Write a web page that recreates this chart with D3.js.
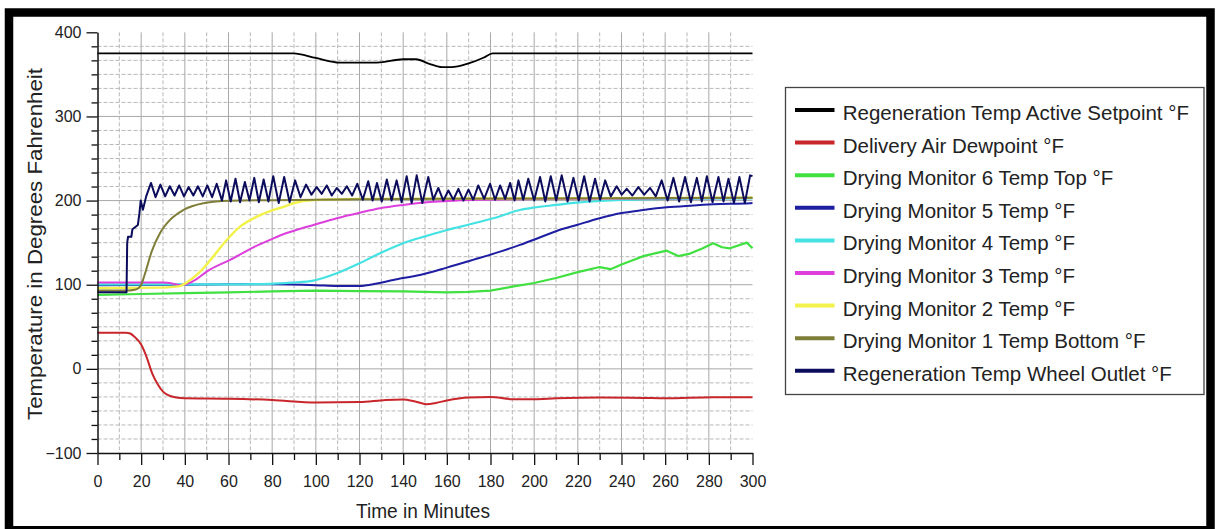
<!DOCTYPE html>
<html><head><meta charset="utf-8">
<script src="https://cdn.jsdelivr.net/npm/d3@7"></script>
<style>html,body{margin:0;padding:0;background:#fff;overflow:hidden}svg{display:block}</style>
</head><body>
<svg id="chart" width="1221" height="529"></svg>
<script>
// ---------- data ----------
const seriesNames = [
  "Regeneration Temp Active Setpoint °F",
  "Delivery Air Dewpoint °F",
  "Drying Monitor 6 Temp Top °F",
  "Drying Monitor 5 Temp °F",
  "Drying Monitor 4 Temp °F",
  "Drying Monitor 3 Temp °F",
  "Drying Monitor 2 Temp °F",
  "Drying Monitor 1 Temp Bottom °F",
  "Regeneration Temp Wheel Outlet °F"
];
const xTickValues = [0,20,40,60,80,100,120,140,160,180,200,220,240,260,280,300];
const yTickValues = [-100,0,100,200,300,400];

const setpoint = [[0,375],[89.7,375],[100,369.5],[111,364],[128,364],[140,368],[146,368],[152,362.5],[158,358.5],[162,358.5],[170,363],[177,370],[181,375],[300,375]];
const dewpoint = [[0,43],[13,43],[15,42],[17,38],[20,29],[22.5,14],[25,-5],[27.5,-18],[30,-27],[33,-32],[36,-34],[40,-35],[60,-35.5],[80,-37],[100,-40],[120,-39.5],[132,-37],[140,-36.5],[145,-38.5],[150.8,-42],[155,-40.5],[160,-37.5],[170,-34],[180,-33.5],[190,-36],[200,-36],[210,-35],[230,-34],[250,-34.5],[260,-35],[282,-33.8],[300,-33.8]];
const monitor6 = [[0,88],[20,89],[40,90],[60,91],[80,92],[100,93],[120,92.5],[140,92],[160,91],[170,91.5],[180,93],[190,97.7],[200,102],[210,108],[220,115],[230,121],[235,118.5],[240,124],[246,130],[250,134],[260.7,140.5],[266,134],[271.4,137],[277,143],[282,149.3],[286,144.5],[289.7,143.3],[297.4,150],[300,143.3]];
const monitor5 = [[0,99.5],[40,100],[60,100.5],[79,100.5],[100,99.5],[110,98.5],[120,98.5],[128,101.5],[135.5,105.7],[147.7,111.6],[160,120.3],[172,129.5],[184.4,139.3],[193.5,147.3],[199.6,153.2],[210.3,163.9],[219.5,171],[230,179],[239.4,184.9],[250,188.8],[260.7,192],[271.4,194],[282,195.6],[299,196.8],[300,197]];
const monitor4 = [[0,100.5],[60,100.5],[79,101],[89,102.5],[98.9,104.9],[109.6,113.6],[120,125.5],[129.4,137.4],[140,149.3],[150.8,158],[160,165],[170.6,171.9],[181.3,179],[193.5,188.8],[199.6,191.6],[210.3,194.8],[219.5,197.5],[230,199.5],[239.4,200.7],[250,201.5],[260,202],[300,202.5]];
const monitor3 = [[0,102.5],[30,102.5],[35,101],[38,99.5],[42,102],[45,106],[50,115.6],[60.7,129.5],[71.4,144.5],[79,153.2],[83.6,158.5],[89.7,163.9],[98.9,171],[109.6,179],[120.2,185.6],[129.4,190.8],[140,194.8],[150.8,198],[160,199.5],[175,201],[200,202],[300,203]];
const monitor2 = [[0,96],[30,96.5],[35,97.5],[37.8,98.4],[41,103],[45.4,111.6],[49,121],[53,133.4],[59.2,153.2],[65.3,169],[73,180.9],[79,187.5],[84,191.5],[89.7,196.8],[98.9,200.5],[120,202],[300,203.5]];
const monitor1 = [[0,93],[13.4,93],[17,94],[18.7,95.8],[20,100],[21.8,113.6],[24.8,139.3],[28.6,161.2],[33.2,177],[39.3,188.8],[48.5,196.8],[60.7,199.9],[80,200.5],[120,201.5],[200,202.5],[300,203.5]];
const wheelOutlet = [
  [0,91],[13.3,91],[13.6,150],[14,157],[15.5,157],[16,166],[18.5,171],[19.2,185],[19.8,200],[20.8,189],[22.3,205],
  [24.5,221],[26.6,204],[28.8,219],[31,205],[33.1,217],[35.3,206],[37.4,218],[39.6,205],[41.7,216],[43.9,206],[46,217],[48.2,205],[50.3,218],[52.5,204],[54.6,220],
  [57,200],[58.9,224],[61,199],[63.2,226],[65.3,198],[67.5,222],[69.6,200],[71.8,227],[73.9,198],[76.1,225],[78.3,199],[80.5,229],[83,197],[85.5,228],[88,198],
  [90.5,224],[93,204],[95.5,219],[98,207],[100.4,216],[102.7,208],[105,218],[107.3,206],[109.6,215],[111.9,208],[114.2,217],[116.6,206],[119,220],
  [121.5,201],[124,223],[126,200],[128,221],[130.2,199],[132.5,225],[134.7,200],[137,224],
  [139.3,198],[141.6,229],[143.9,197],[146.2,230],[148.8,197],[151.5,228],
  [153.8,201],[156.1,215],[158.4,200],[160.7,212],[163,201],[165.3,214],[167.6,200],[169.9,213],
  [172.1,201],[174.4,218],[177.1,202],[179.8,220],[182.1,201],[184.4,218],[186.7,202],[189,221],[191,200],
  [192.8,224],[195,201],[197.3,226],[200,200],[202.7,228],[205.1,199],[207.6,229],[210.1,200],[212.6,230],[215.3,199],[218,227],[220.4,200],[222.9,229],[225.4,199],[227.9,226],[230.2,201],[232.5,224],
  [235.1,205],[237.8,217],[240.1,207],[242.4,214],[245,206],[247.7,216],[250.4,207],[253.1,215],[255.7,205],
  [258.4,224],[261.1,200],[263.8,227],[266.4,199],[269.1,228],[271.8,198],[274.5,227],[276.8,199],[279.1,229],[281.7,198],[284.4,228],[286.7,199],[289,226],[291.5,197],[294,228],[296.5,197],[298.9,230],[300,229]
];
const seriesData = [setpoint, dewpoint, monitor6, monitor5, monitor4, monitor3, monitor2, monitor1, wheelOutlet];

// ---------- styles ----------
const colors = ["#000000","#c8262a","#3fe03f","#1e1ea2","#44e2e2","#dc3fdc","#f2f24a","#7e7e38","#0c0c5c"];
const widths = [1.8,2,2.2,2,2.2,2,2.4,2,2];
const curves = [d3.curveMonotoneX,d3.curveMonotoneX,d3.curveLinear,d3.curveMonotoneX,d3.curveMonotoneX,d3.curveMonotoneX,d3.curveMonotoneX,d3.curveMonotoneX,d3.curveLinear];
const FONT = "'Liberation Sans', Arial, Helvetica, sans-serif";

const svg = d3.select("#chart");
svg.append("rect").attr("width",1221).attr("height",529).attr("fill","#fff");

const x = d3.scaleLinear().domain([0,300]).range([97.5,752.5]);
const y = d3.scaleLinear().domain([-100,400]).range([453,32.3]);

// grid
const g = svg.append("g");
const vGrid = d3.range(1,30).map(i => i*10);
g.selectAll("line.vg").data(vGrid).enter().append("line")
  .attr("x1",d=>x(d)).attr("x2",d=>x(d)).attr("y1",y(400)).attr("y2",y(-100))
  .attr("stroke", d => d%20===0 ? "#a8a8a8" : "#b8b8b8")
  .attr("stroke-width",1)
  .attr("stroke-dasharray", d => d%20===0 ? null : "4,2");
const hIdx = d3.range(1,30);
g.selectAll("line.hg").data(hIdx).enter().append("line")
  .attr("x1",x(0)).attr("x2",x(300))
  .attr("y1",i=>y(-100+i*100/6)).attr("y2",i=>y(-100+i*100/6))
  .attr("stroke", i => i%6===0 ? "#a8a8a8" : "#b8b8b8")
  .attr("stroke-width",1)
  .attr("stroke-dasharray", i => i%6===0 ? null : "4,2");

// series lines
seriesData.forEach((data,k) => {
  const line = d3.line().x(d=>x(d[0])).y(d=>y(d[1])).curve(curves[k]);
  svg.append("path").datum(data).attr("d",line)
    .attr("fill","none").attr("stroke",colors[k]).attr("stroke-width",widths[k])
    .attr("stroke-linejoin","round");
});

// axes
const yMinor = d3.range(0,31).map(i => -100 + i*100/6).filter((d,i)=> i%6!==0);
const xMinor = d3.range(10,300,20);
const yAx = svg.append("g").attr("transform",`translate(${x(0)},0)`)
  .call(d3.axisLeft(y).tickValues(yTickValues).tickSize(11).tickSizeOuter(0).tickPadding(5));
svg.append("g").attr("transform",`translate(${x(0)},0)`)
  .call(d3.axisLeft(y).tickValues(yMinor).tickSize(6).tickSizeOuter(0).tickFormat(""))
  .select(".domain").remove();
const xAx = svg.append("g").attr("transform",`translate(0,${y(-100)})`)
  .call(d3.axisBottom(x).tickValues(xTickValues).tickSize(12).tickSizeOuter(0).tickPadding(11));
svg.append("g").attr("transform",`translate(0,${y(-100)})`)
  .call(d3.axisBottom(x).tickValues(xMinor).tickSize(7).tickSizeOuter(0).tickFormat(""))
  .select(".domain").remove();
svg.selectAll(".tick line").attr("stroke","#111").attr("stroke-width",1.3);
svg.selectAll(".domain").attr("stroke","#111").attr("stroke-width",1.5);
svg.selectAll(".tick text").attr("font-family",FONT).attr("font-size",16).attr("fill","#222");

// titles
svg.append("text").attr("x",423).attr("y",518).attr("text-anchor","middle")
  .attr("font-family",FONT).attr("font-size",21).attr("fill","#222")
  .attr("textLength",134).attr("lengthAdjust","spacingAndGlyphs")
  .text("Time in Minutes");
svg.append("text").attr("transform","translate(41.5,244) rotate(-90)").attr("text-anchor","middle")
  .attr("font-family",FONT).attr("font-size",21).attr("fill","#222")
  .attr("textLength",352).attr("lengthAdjust","spacingAndGlyphs")
  .text("Temperature in Degrees Fahrenheit");

// legend
const lg = svg.append("g");
lg.append("rect").attr("x",785.5).attr("y",87.5).attr("width",418.5).attr("height",307)
  .attr("fill","#fff").attr("stroke","#444").attr("stroke-width",1.3);
seriesNames.forEach((name,k) => {
  const by = 120 + k*32.6;
  lg.append("line").attr("x1",795).attr("x2",834.5).attr("y1",by-10).attr("y2",by-10)
    .attr("stroke",colors[k]).attr("stroke-width",4);
  lg.append("text").attr("x",842.7).attr("y",by)
    .attr("font-family",FONT).attr("font-size",20.5).attr("fill","#222").text(name);
});

// frame
svg.append("rect").attr("x",9).attr("y",12.5).attr("width",1201.5).attr("height",517.75)
  .attr("fill","none").attr("stroke","#000").attr("stroke-width",8.5);
</script>
</body></html>
